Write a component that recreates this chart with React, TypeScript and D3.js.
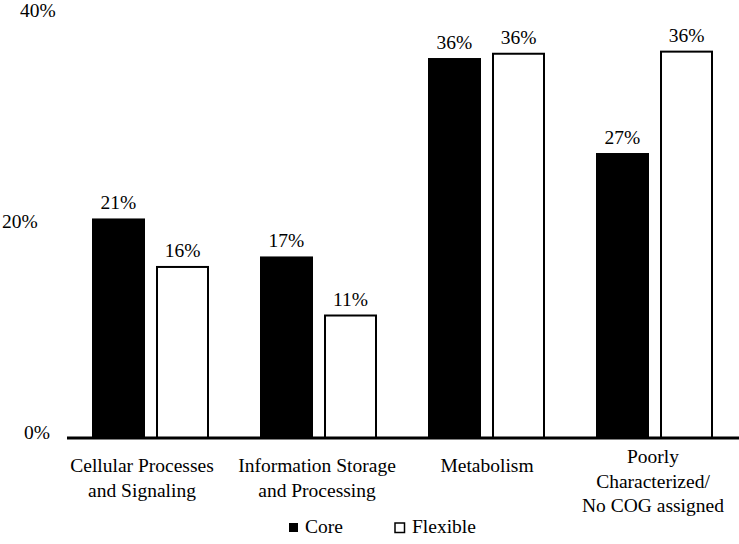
import React from "react";
import * as d3 from "d3";

const categories = [
  ["Cellular Processes", "and Signaling"],
  ["Information Storage", "and Processing"],
  ["Metabolism"],
  ["Poorly", "Characterized/", "No COG assigned"],
];
const series = ["Core", "Flexible"];
const coreValues = [20.8, 17.2, 36.0, 27.0];
const flexibleValues = [16.3, 11.7, 36.5, 36.7];
const valueLabels = [
  ["21%", "17%", "36%", "27%"],
  ["16%", "11%", "36%", "36%"],
];
const yTicks = [0, 20, 40];
const yTickLabels = ["0%", "20%", "40%"];

const W = 739;
const H = 544;
const FONT = '"Liberation Serif", "Times New Roman", Times, "DejaVu Serif", serif';

export default function App() {
  const x0 = d3
    .scaleBand<number>()
    .domain(categories.map((_, i) => i))
    .range([67, 739])
    .paddingInner(0)
    .paddingOuter(0);
  const x1 = d3
    .scaleBand<string>()
    .domain(series)
    .range([25, x0.bandwidth() - 26])
    .paddingInner(0.172);
  const y = d3.scaleLinear().domain([0, 40]).range([438, 15.8]);
  const data = [coreValues, flexibleValues];

  const tickX = [24, 2, 20];
  const labelDx = [-9, -2, 0, -2];
  const txt = { fontFamily: FONT, fontSize: "19.5px" } as React.CSSProperties;

  return (
    <svg
      width={W}
      height={H}
      style={{ position: "absolute", left: 0, top: 0, display: "block", background: "#fff", fontFamily: FONT }}
    >
      <rect x={0} y={0} width={W} height={H} fill="#fff" />
      {yTicks.map((t, i) => (
        <text key={t} x={tickX[i]} y={y(t) + 1} style={txt} fill="#000">
          {yTickLabels[i]}
        </text>
      ))}
      {categories.map((cat, ci) =>
        series.map((s, si) => {
          const v = data[si][ci];
          const bx = (x0(ci) as number) + (x1(s) as number);
          const bw = x1.bandwidth();
          const core = si === 0;
          return (
            <g key={s + ci}>
              <rect
                x={core ? bx : bx + 1}
                y={core ? y(v) : y(v) + 1}
                width={core ? bw : bw - 2}
                height={core ? y(0) - y(v) : y(0) - y(v) - 1}
                fill={core ? "#000" : "#fff"}
                stroke="#000"
                strokeWidth={core ? 0 : 2}
              />
              <text x={bx + bw / 2} y={y(v) - 9} textAnchor="middle" style={txt} fill="#000">
                {valueLabels[si][ci]}
              </text>
            </g>
          );
        })
      )}
      <line x1={67} x2={739} y1={438} y2={438} stroke="#000" strokeWidth={3} />
      {categories.map((lines, ci) => {
        const cx = (x0(ci) as number) + x0.bandwidth() / 2 + labelDx[ci];
        const first = lines.length >= 3 ? 463 : 472;
        return (
          <text key={ci} textAnchor="middle" style={txt} fill="#000">
            {lines.map((l, li) => (
              <tspan key={li} x={cx} y={first + li * 24.5}>
                {l}
              </tspan>
            ))}
          </text>
        );
      })}
      <g>
        <rect x={289} y={523} width={9} height={9} fill="#000" />
        <text x={305} y={533} style={txt} fill="#000">
          {series[0]}
        </text>
        <rect x={395} y={523} width={9.5} height={9.5} fill="#fff" stroke="#000" strokeWidth={1.5} />
        <text x={412} y={533} style={txt} fill="#000">
          {series[1]}
        </text>
      </g>
    </svg>
  );
}
